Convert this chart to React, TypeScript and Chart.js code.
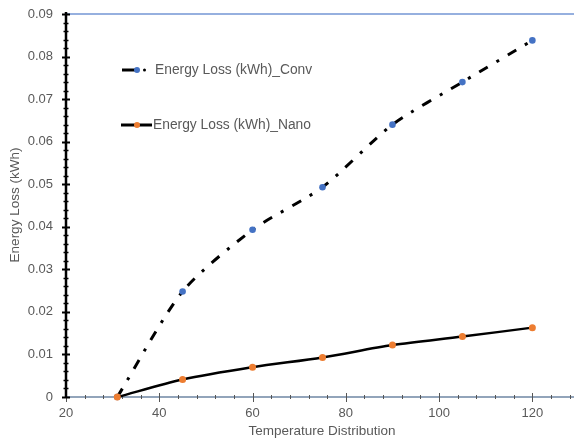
import React, { useEffect, useRef } from "react";
import { Chart, registerables } from "chart.js";

Chart.register(...registerables);

const temperatures = [31, 45, 60, 75, 90, 105, 120];
const convLoss = [0, 0.0248, 0.0393, 0.0493, 0.064, 0.074, 0.0838];
const nanoLoss = [0, 0.0041, 0.007, 0.0093, 0.0122, 0.0142, 0.0163];
const seriesNames = ["Energy Loss (kWh)_Conv", "Energy Loss (kWh)_Nano"];
const xTitle = "Temperature Distribution";
const yTitle = "Energy Loss (kWh)";

const FONT = "'Liberation Sans', Arial, sans-serif";
const TEXT = "#595959";
const BLUE = "#4472C4";
const ORANGE = "#ED7D31";

const decorPlugin = {
  id: "decor",
  beforeDatasetsDraw(chart: any) {
    const ctx = chart.ctx;
    const xs = chart.scales.x;
    const ys = chart.scales.y;
    const { left, right, top, bottom } = chart.chartArea;
    ctx.save();
    // top border
    ctx.strokeStyle = "#7396D4";
    ctx.lineWidth = 1.5;
    ctx.beginPath();
    ctx.moveTo(left, top);
    ctx.lineTo(right, top);
    ctx.stroke();
    // x axis line
    ctx.strokeStyle = "#6E86A3";
    ctx.lineWidth = 1.5;
    ctx.beginPath();
    ctx.moveTo(left, bottom);
    ctx.lineTo(right, bottom);
    ctx.stroke();
    // x ticks
    ctx.strokeStyle = "#555";
    for (let v = 20; v <= 130; v += 4) {
      const px = Math.round(xs.getPixelForValue(v)) + 0.5;
      const major = (v - 20) % 20 === 0;
      ctx.lineWidth = 1;
      ctx.beginPath();
      ctx.moveTo(px, bottom - (major ? 4 : 2));
      ctx.lineTo(px, bottom + (major ? 5 : 2));
      ctx.stroke();
    }
    // y axis line
    ctx.strokeStyle = "#000";
    ctx.lineWidth = 2.5;
    ctx.beginPath();
    ctx.moveTo(left, top - 2);
    ctx.lineTo(left, bottom);
    ctx.stroke();
    for (let i = 0; i <= 45; i++) {
      const v = i * 0.002;
      const py = Math.round(ys.getPixelForValue(v)) + 0.5;
      const major = i % 5 === 0;
      ctx.lineWidth = major ? 2 : 1.5;
      ctx.beginPath();
      ctx.moveTo(left - (major ? 4 : 2.5), py);
      ctx.lineTo(left + (major ? 4 : 2.5), py);
      ctx.stroke();
    }
    // axis titles
    ctx.fillStyle = TEXT;
    ctx.font = `13.5px ${FONT}`;
    ctx.textAlign = "center";
    ctx.textBaseline = "middle";
    ctx.fillText(xTitle, 322, 431);
    ctx.save();
    ctx.translate(15, 205);
    ctx.rotate(-Math.PI / 2);
    ctx.fillText(yTitle, 0, 0);
    ctx.restore();
    // legend
    ctx.textAlign = "left";
    ctx.lineWidth = 3;
    ctx.strokeStyle = "#000";
    ctx.beginPath();
    ctx.moveTo(122, 70);
    ctx.lineTo(135, 70);
    ctx.stroke();
    ctx.fillStyle = BLUE;
    ctx.beginPath();
    ctx.arc(137, 70, 3, 0, Math.PI * 2);
    ctx.fill();
    ctx.fillStyle = "#000";
    ctx.beginPath();
    ctx.arc(144.5, 70, 1.5, 0, Math.PI * 2);
    ctx.fill();
    ctx.fillStyle = TEXT;
    ctx.font = `13.8px ${FONT}`;
    ctx.fillText(seriesNames[0], 155, 70);
    ctx.beginPath();
    ctx.moveTo(121, 125);
    ctx.lineTo(152, 125);
    ctx.stroke();
    ctx.fillStyle = ORANGE;
    ctx.beginPath();
    ctx.arc(137, 125, 3, 0, Math.PI * 2);
    ctx.fill();
    ctx.fillStyle = TEXT;
    ctx.fillText(seriesNames[1], 153, 125);
    ctx.restore();
  },
};

export default function App() {
  const ref = useRef<HTMLCanvasElement | null>(null);
  useEffect(() => {
    if (!ref.current) return;
    const chart = new Chart(ref.current, {
      type: "line",
      data: {
        datasets: [
          {
            label: seriesNames[0],
            data: temperatures.map((t, i) => ({ x: t, y: convLoss[i] })),
            borderColor: "#000",
            borderWidth: 3,
            borderDash: [10, 10, 3, 10],
            pointBackgroundColor: BLUE,
            pointBorderColor: BLUE,
            pointBorderWidth: 0,
            pointRadius: 3.3,
            tension: 0.25,
            order: 1,
            clip: false,
          },
          {
            label: seriesNames[1],
            data: temperatures.map((t, i) => ({ x: t, y: nanoLoss[i] })),
            borderColor: "#000",
            borderWidth: 2.5,
            pointBackgroundColor: ORANGE,
            pointBorderColor: ORANGE,
            pointBorderWidth: 0,
            pointRadius: 3.5,
            tension: 0.3,
            order: 0,
            clip: false,
          },
        ],
      },
      options: {
        animation: false,
        responsive: false,
        layout: { padding: { top: 14, left: 0, right: 0, bottom: 0 } },
        plugins: { legend: { display: false }, tooltip: { enabled: false } },
        scales: {
          x: {
            type: "linear",
            min: 20,
            max: 130,
            grid: { display: false },
            border: { display: false },
            afterFit: (s: any) => {
              s.height = 44;
            },
            ticks: {
              stepSize: 20,
              padding: 1,
              color: TEXT,
              font: { family: FONT, size: 13 },
              maxRotation: 0,
              callback: (v: any) => (v === 130 ? "" : String(v)),
            },
          },
          y: {
            min: 0,
            max: 0.09,
            grid: { display: false },
            border: { display: false },
            afterFit: (s: any) => {
              s.width = 66;
            },
            ticks: {
              stepSize: 0.01,
              padding: 5,
              color: TEXT,
              font: { family: FONT, size: 13 },
              callback: (v: any) => (Math.abs(v) < 1e-9 ? "0" : Number(v).toFixed(2)),
            },
          },
        },
      },
      plugins: [decorPlugin],
    });
    return () => chart.destroy();
  }, []);
  return (
    <div
      style={{
        position: "fixed",
        left: 0,
        top: 0,
        width: 574,
        height: 441,
        overflow: "hidden",
        background: "#fff",
      }}
    >
      <canvas ref={ref} width={583} height={441} style={{ display: "block" }} />
    </div>
  );
}
